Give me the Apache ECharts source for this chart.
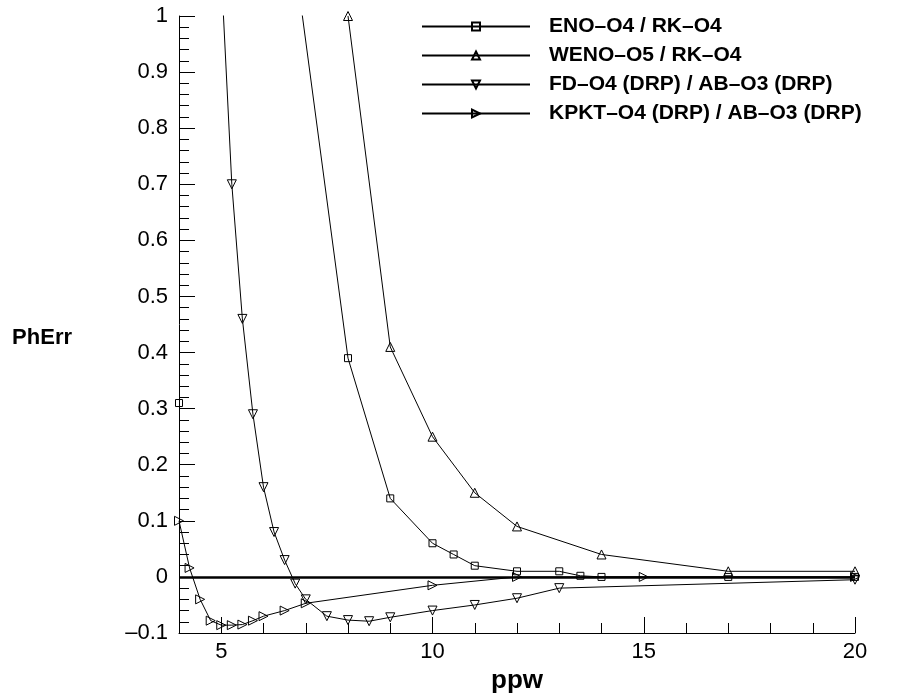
<!DOCTYPE html>
<html><head><meta charset="utf-8">
<script src="https://cdn.jsdelivr.net/npm/echarts@6/dist/echarts.min.js"></script>
<style>html,body{margin:0;padding:0;background:#fff}#c{width:907px;height:693px}</style>
</head><body><div id="c"></div>
<script>
// ---- data ----
const seriesNames = ['ENO\u2013O4 / RK\u2013O4', 'WENO\u2013O5 / RK\u2013O4', 'FD\u2013O4 (DRP) / AB\u2013O3 (DRP)', 'KPKT\u2013O4 (DRP) / AB\u2013O3 (DRP)'];
const enoX  = [4, 5, 6, 8, 9, 10, 10.5, 11, 12, 13, 13.5, 14, 17, 20];
const enoY  = [0.31, null, 1.52, 0.39, 0.14, 0.06, 0.04, 0.02, 0.01, 0.01, 0.002, 0, 0, 0];
const wenoX = [8, 9, 10, 11, 12, 14, 17, 20];
const wenoY = [1.0, 0.41, 0.25, 0.15, 0.09, 0.04, 0.01, 0.01];
const fdX   = [5, 5.25, 5.5, 5.75, 6, 6.25, 6.5, 6.75, 7, 7.5, 8, 8.5, 9, 10, 11, 12, 13, 20];
const fdY   = [1.08, 0.70, 0.46, 0.29, 0.16, 0.08, 0.03, -0.012, -0.04, -0.07, -0.077, -0.079, -0.072, -0.06, -0.05, -0.038, -0.02, -0.005];
const kpktX = [4, 4.25, 4.5, 4.75, 5, 5.25, 5.5, 5.75, 6, 6.5, 7, 10, 12, 15, 20];
const kpktY = [0.10, 0.016, -0.04, -0.078, -0.086, -0.086, -0.085, -0.078, -0.07, -0.06, -0.047, -0.015, 0, 0, 0];
const xMin = 4, xMax = 20, xMinorStep = 1;
const xMajorTicks = [5, 10, 15, 20];
const yMin = -0.1, yMax = 1, yStep = 0.1;
const zeroLineY = 0;

const FONT = "'Liberation Sans', Arial, Helvetica, sans-serif";
function mk(name, xs, ys, symbol, size, rotate) {
  return {
    name: name, type: 'line',
    data: xs.map((x, i) => [x, ys[i]]),
    symbol: symbol, symbolSize: size, symbolRotate: rotate,
    showAllSymbol: true, connectNulls: false, clip: true,
    lineStyle: { color: '#000', width: 1 },
    itemStyle: { color: 'rgba(0,0,0,0)', borderColor: '#000', borderWidth: 1 },
    emphasis: { disabled: true }, silent: true, z: 3
  };
}
const series = [
  mk(seriesNames[0], enoX, enoY, 'rect', 7, 0),
  mk(seriesNames[1], wenoX, wenoY, 'triangle', 9, 0),
  mk(seriesNames[2], fdX, fdY, 'triangle', 9, 180),
  mk(seriesNames[3], kpktX, kpktY, 'triangle', 9, -90)
];
series[0].markLine = {
  silent: true, symbol: ['none', 'none'], label: { show: false },
  lineStyle: { color: '#000', width: 2.5, type: 'solid' },
  data: [{ yAxis: zeroLineY }]
};

const chart = echarts.init(document.getElementById('c'), null, { renderer: 'canvas' });
chart.setOption({
  animation: false,
  backgroundColor: '#fff',
  textStyle: { fontFamily: FONT },
  grid: { left: 179, right: 52, top: 16, bottom: 60, containLabel: false, outerBoundsMode: 'none' },
  legend: {
    orient: 'vertical', left: 421, top: 16, padding: 0,
    itemWidth: 108, itemHeight: 10, itemGap: 8,
    selectedMode: false,
    data: seriesNames,
    textStyle: { fontFamily: FONT, fontSize: 21, fontWeight: 'bold', color: '#000', lineHeight: 21, padding: [0, 0, 0, 14] }
  },
  xAxis: [
    {
      type: 'value', min: xMin, max: xMax, position: 'bottom',
      axisLine: { show: true, onZero: false, lineStyle: { color: '#000', width: 1 } },
      axisTick: { show: true, inside: true, length: 16, customValues: xMajorTicks, lineStyle: { color: '#000', width: 1 } },
      axisLabel: { customValues: xMajorTicks, margin: 8, fontSize: 22, color: '#000', fontFamily: FONT },
      splitLine: { show: false },
      name: 'ppw', nameLocation: 'middle', nameGap: 32,
      nameTextStyle: { fontSize: 26, fontWeight: 'bold', color: '#000', fontFamily: FONT }
    },
    {
      type: 'value', min: xMin, max: xMax, interval: xMinorStep, position: 'bottom', offset: 0,
      axisLine: { show: false, onZero: false },
      axisTick: { show: true, inside: true, length: 10, lineStyle: { color: '#000', width: 1 } },
      axisLabel: { show: false }, splitLine: { show: false }
    }
  ],
  yAxis: {
    type: 'value', min: yMin, max: yMax, interval: yStep,
    axisLine: { show: true, onZero: false, lineStyle: { color: '#000', width: 1 } },
    axisTick: { show: true, inside: true, length: 16, lineStyle: { color: '#000', width: 1 } },
    minorTick: { show: true, splitNumber: 5, length: 10, lineStyle: { color: '#000', width: 1 } },
    axisLabel: { margin: 11, fontSize: 22, color: '#000', fontFamily: FONT,
      formatter: v => String(+v.toFixed(2)).replace('-', '\u2013') },
    splitLine: { show: false },
    name: 'PhErr', nameLocation: 'middle', nameRotate: 0, nameGap: 107,
    nameTextStyle: { fontSize: 22, fontWeight: 'bold', color: '#000', fontFamily: FONT, verticalAlign: 'top', lineHeight: 26 }
  },
  series: series
});
</script></body></html>
